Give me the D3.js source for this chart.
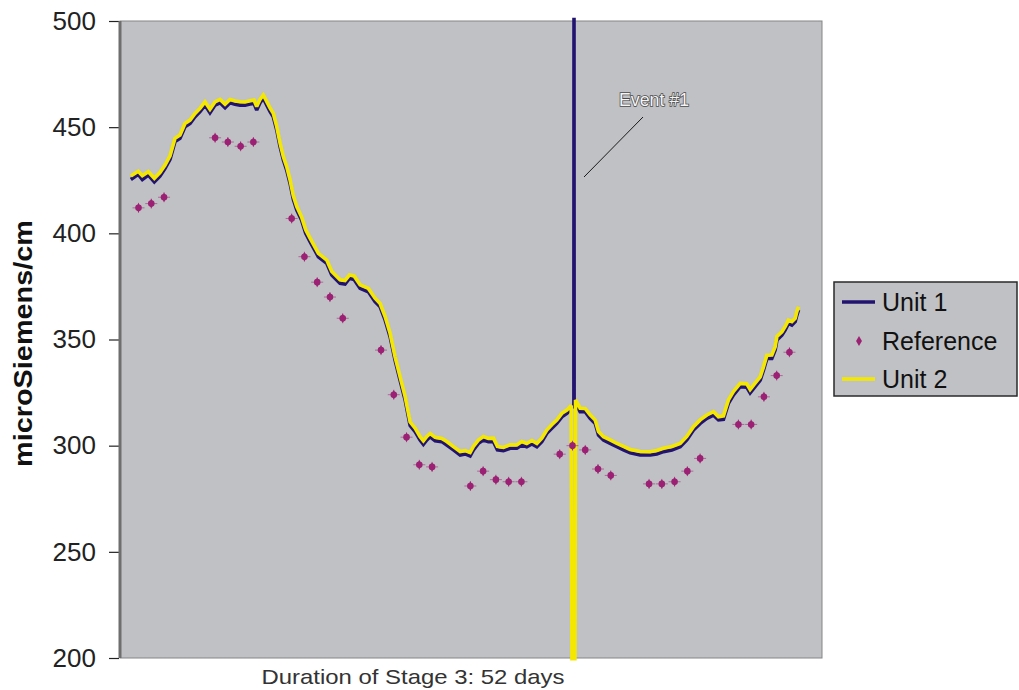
<!DOCTYPE html>
<html>
<head>
<meta charset="utf-8">
<script src="https://cdn.jsdelivr.net/npm/d3@7"></script>
<style>
  html, body { margin: 0; padding: 0; background: #ffffff; }
  svg { display: block; font-family: "Liberation Sans", Arial, sans-serif; }
</style>
</head>
<body>
<svg id="chart" width="1019" height="690"></svg>
<script>
// ---------------- DATA ----------------
const yTicks = [200, 250, 300, 350, 400, 450, 500];
const yTitle = "microSiemens/cm";
const xTitle = "Duration of Stage 3: 52 days";
const seriesNames = ["Unit 1", "Reference", "Unit 2"];
const eventLabel = "Event #1";

// Reference readings (day, value)
const refDays = [1, 2, 3, 7, 8, 9, 10, 13, 14, 15, 16, 17, 20, 21, 22, 23, 24,
  27, 28, 29, 30, 31, 34, 35, 36, 37, 38, 41, 42, 43, 44, 45, 48, 49, 50, 51, 52];
const refValues = [412, 414, 417, 445, 443, 441, 443, 407, 389, 377, 370, 360, 345, 324, 304, 291, 290,
  281, 288, 284, 283, 283, 296, 300, 298, 289, 286, 282, 282, 283, 288, 294, 310, 310, 323, 333, 344];

// Continuous monitor readings (day positions shared by both units)
const unitDays = [0.4, 0.98, 1.3, 1.77, 2.24, 2.68, 3.08, 3.47, 3.86, 4.25, 4.64, 5.04, 5.43, 5.82,
  6.21, 6.6, 7.0, 7.39, 7.78, 8.17, 8.56, 8.95, 9.35, 9.74, 10.05, 10.26, 10.52, 10.78, 11.05,
  11.31, 11.56, 11.83, 12.09, 12.35, 12.61, 12.87, 13.13, 13.4, 13.79, 14.1, 14.44, 15.09, 15.75,
  16.14, 16.79, 17.18, 17.52, 17.89, 18.36, 19.01, 19.53, 19.93, 20.32, 20.71, 21.1, 21.49, 21.89,
  22.28, 22.67, 23.06, 23.32, 23.59, 23.85, 24.24, 24.76, 25.15, 25.67, 26.2, 26.59, 26.98, 27.24,
  27.63, 28.02, 28.41, 28.81, 29.12, 29.59, 30.11, 30.64, 31.03, 31.42, 31.82, 32.21, 32.6, 32.99,
  33.38, 33.77, 34.17, 34.56, 34.9, 34.96, 35.11, 35.12, 35.13, 35.19, 35.24, 35.6, 35.99, 36.38, 36.78,
  37.04, 37.43, 37.95, 38.48, 38.99, 39.52, 40.3, 41.09, 41.61, 42.13, 42.79, 43.44, 43.96, 44.48,
  45.01, 45.53, 46.05, 46.44, 46.83, 47.22, 47.62, 48.14, 48.66, 48.92, 49.31, 49.71, 49.97, 50.23,
  50.62, 50.88, 51.02, 51.41, 51.67, 51.92, 52.19, 52.45, 52.58, 52.71];

const unit1 = [425.4, 427.8, 425.4, 427.5, 424.3, 427.0, 430.6, 434.9, 443.2, 444.8, 450.2, 451.8, 454.9, 457.3,
  460.4, 456.8, 460.4, 461.5, 459.2, 461.5, 460.8, 460.4, 460.4, 460.9, 461.2, 458.1, 461.5, 463.6, 460.4,
  457.3, 454.9, 448.7, 440.8, 434.5, 429.8, 423.6, 416.0, 411.0, 406.0, 400.0, 396.1, 389.0, 385.9,
  380.4, 376.5, 376.1, 378.8, 378.3, 374.1, 372.5, 367.8, 365.4, 359.2, 351.3, 340.3, 330.9, 321.5,
  309.5, 306.6, 302.7, 300.6, 302.7, 304.2, 302.3, 301.9, 300.3, 298.0, 295.6, 296.1, 295.1, 298.0,
  301.1, 302.7, 301.9, 301.9, 298.0, 297.6, 298.8, 298.8, 300.3, 299.5, 300.8, 299.5, 301.9, 305.8,
  308.2, 310.5, 313.6, 315.2, 317.3, 318.0, 319.0, 501.5, 320.5, 320.3, 320.0, 316.0, 316.0, 312.9, 310.5,
  305.0, 302.7, 301.1, 299.5, 298.0, 296.7, 295.6, 295.6, 296.1, 297.2, 298.0, 299.5, 302.7, 307.4,
  310.5, 312.9, 314.4, 312.1, 312.4, 320.0, 323.9, 327.8, 327.5, 324.9, 327.8, 330.9, 335.6, 341.1,
  341.1, 345.1, 349.8, 352.1, 354.5, 357.6, 356.8, 358.4, 361.5, 363.9];

const unit2 = [426.8, 429.0, 426.9, 428.8, 425.7, 428.4, 431.9, 436.3, 444.5, 446.1, 451.5, 453.1, 456.2, 458.6,
  461.7, 458.2, 461.7, 462.8, 460.6, 462.8, 462.1, 461.7, 461.6, 462.2, 462.5, 459.5, 462.8, 464.9, 461.8,
  458.7, 456.3, 450.0, 442.2, 435.8, 431.2, 425.0, 417.4, 412.4, 407.3, 401.4, 397.5, 390.3, 387.2,
  381.8, 377.9, 377.5, 380.1, 379.7, 375.5, 373.8, 369.2, 366.7, 360.6, 352.7, 341.6, 332.3, 322.9,
  310.9, 308.0, 304.0, 302.0, 304.1, 305.5, 303.7, 303.2, 301.7, 299.3, 297.0, 297.4, 296.5, 299.4,
  302.4, 304.1, 303.2, 303.3, 299.4, 298.9, 300.2, 300.1, 301.7, 300.8, 302.2, 300.8, 303.3, 307.1,
  309.6, 311.8, 315.0, 316.5, 318.7, 199.4, 199.4, 199.4, 199.4, 199.4, 321.3, 317.4, 317.3, 314.3, 311.8,
  306.4, 304.0, 302.5, 300.8, 299.4, 298.0, 297.0, 296.9, 297.5, 298.5, 299.4, 300.8, 304.1, 308.7,
  311.9, 314.2, 315.8, 313.4, 313.8, 321.3, 325.3, 329.1, 328.9, 326.2, 329.2, 332.2, 337.0, 342.4,
  342.5, 346.4, 351.2, 353.4, 355.9, 358.9, 358.2, 359.7, 362.9, 365.2];

// ---------------- LAYOUT ----------------
const svg = d3.select("#chart");
const plot = { left: 120, top: 21, right: 822, bottom: 658 };
const colors = { bg: "#c0c1c5", unit1: "#21136f", unit2: "#f4e800", ref: "#9c2073" };

const x = d3.scaleLinear().domain([-0.45, 54.55]).range([plot.left, plot.right]);
const y = d3.scaleLinear().domain([200, 500]).range([plot.bottom, plot.top]);

// plot background
svg.append("rect")
  .attr("x", plot.left).attr("y", plot.top)
  .attr("width", plot.right - plot.left).attr("height", plot.bottom - plot.top)
  .attr("fill", colors.bg)
  .attr("stroke", "#858585").attr("stroke-width", 1);

// Y axis
const yAxis = d3.axisLeft(y).tickValues(yTicks).tickSize(10).tickPadding(13).tickFormat(d3.format("d"));
const gy = svg.append("g").attr("transform", `translate(${plot.left - 1},0)`).call(yAxis);
gy.select(".domain").remove();
gy.selectAll(".tick line").attr("stroke", "#222").attr("stroke-width", 1.2);
gy.selectAll(".tick text")
  .attr("font-size", 26).attr("fill", "#222")
  .attr("font-family", "'Liberation Sans', Arial, sans-serif");
// thick left axis line
svg.append("line")
  .attr("x1", plot.left).attr("x2", plot.left)
  .attr("y1", plot.top).attr("y2", plot.bottom)
  .attr("stroke", "#6e6e6e").attr("stroke-width", 3);

// Y title
svg.append("text")
  .attr("transform", `translate(32,${(220 + 467) / 2}) rotate(-90)`)
  .attr("text-anchor", "middle")
  .attr("font-size", 26).attr("font-weight", "bold").attr("fill", "#111")
  .attr("textLength", 247).attr("lengthAdjust", "spacingAndGlyphs")
  .text(yTitle);

// X title
svg.append("text")
  .attr("x", 413).attr("y", 684)
  .attr("text-anchor", "middle")
  .attr("font-size", 21).attr("fill", "#333")
  .attr("textLength", 303).attr("lengthAdjust", "spacingAndGlyphs")
  .text(xTitle);

// Lines
const line = vals => d3.line()
  .x((d, i) => x(unitDays[i]))
  .y(d => y(d))(vals);

svg.append("path")
  .attr("d", line(unit1))
  .attr("fill", "none").attr("stroke", colors.unit1)
  .attr("stroke-width", 3.6).attr("stroke-linejoin", "miter").attr("stroke-miterlimit", 2);

svg.append("path")
  .attr("d", line(unit2))
  .attr("fill", "none").attr("stroke", colors.unit2)
  .attr("stroke-width", 3.6).attr("stroke-linejoin", "miter").attr("stroke-miterlimit", 2)
  .attr("transform", "translate(0,-0.5)");

// Reference markers
function refMarker(g, cx, cy) {
  g.append("line").attr("x1", cx - 6).attr("x2", cx + 6).attr("y1", cy).attr("y2", cy)
    .attr("stroke", colors.ref).attr("stroke-width", 1).attr("opacity", 0.55);
  g.append("line").attr("x1", cx).attr("x2", cx).attr("y1", cy - 5).attr("y2", cy + 5)
    .attr("stroke", colors.ref).attr("stroke-width", 1).attr("opacity", 0.55);
  g.append("path")
    .attr("d", d3.symbol(d3.symbolDiamond, 26)())
    .attr("transform", `translate(${cx},${cy})`)
    .attr("fill", colors.ref);
  g.append("circle").attr("cx", cx).attr("cy", cy).attr("r", 3.3).attr("fill", colors.ref);
}
const gRef = svg.append("g");
refDays.forEach((d, i) => refMarker(gRef, x(d), y(refValues[i])));

// Event annotation
svg.append("line")
  .attr("x1", 584).attr("y1", 177).attr("x2", 643).attr("y2", 117)
  .attr("stroke", "#1a1a1a").attr("stroke-width", 1);
svg.append("text")
  .attr("x", 654).attr("y", 106)
  .attr("text-anchor", "middle")
  .attr("font-size", 19)
  .attr("textLength", 70).attr("lengthAdjust", "spacingAndGlyphs")
  .attr("fill", "#f4f4f4").attr("stroke", "#4a4a4a").attr("stroke-width", 1.6)
  .attr("paint-order", "stroke")
  .text(eventLabel);

// Legend
const lg = svg.append("g");
lg.append("rect")
  .attr("x", 834).attr("y", 282).attr("width", 183).attr("height", 114)
  .attr("fill", colors.bg).attr("stroke", "#2a2a2a").attr("stroke-width", 1.5);
const legendRows = [
  { name: seriesNames[0], type: "line", color: colors.unit1, cy: 302 },
  { name: seriesNames[1], type: "marker", color: colors.ref, cy: 341 },
  { name: seriesNames[2], type: "line", color: colors.unit2, cy: 379 }
];
legendRows.forEach(r => {
  if (r.type === "line") {
    lg.append("line").attr("x1", 842).attr("x2", 875).attr("y1", r.cy).attr("y2", r.cy)
      .attr("stroke", r.color).attr("stroke-width", 3.5);
  } else {
    lg.append("path")
      .attr("d", d3.symbol(d3.symbolDiamond, 30)())
      .attr("transform", `translate(859,${r.cy})`)
      .attr("fill", r.color);
  }
  lg.append("text")
    .attr("x", 882).attr("y", r.cy + 9)
    .attr("font-size", 25).attr("fill", "#111")
    .text(r.name);
});
</script>
</body>
</html>
